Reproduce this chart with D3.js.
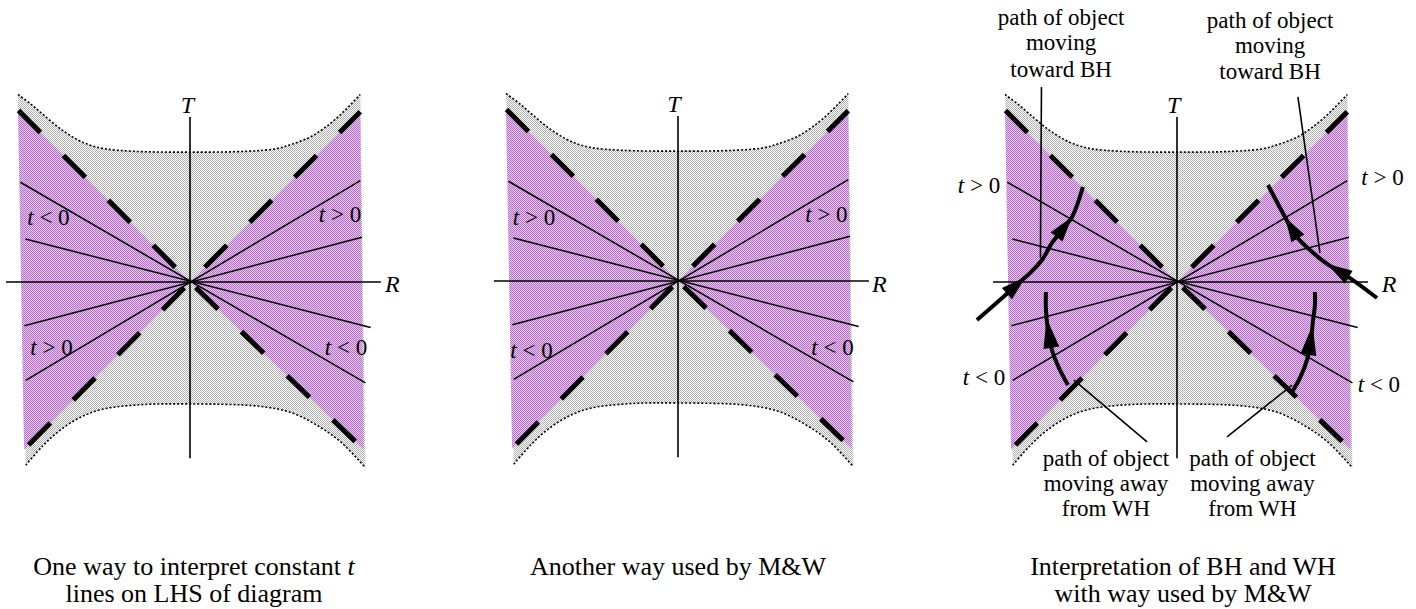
<!DOCTYPE html>
<html><head><meta charset="utf-8">
<script src="https://cdn.jsdelivr.net/npm/d3@7/dist/d3.min.js"></script>
<style>
body{margin:0;background:#fff}
svg{display:block}
text{font-family:"Liberation Serif","Times New Roman",Times,serif;fill:#000}
</style>
</head><body>
<svg id="c" width="1416" height="609"></svg>
<script>
// ---------------- DATA (unit coordinates: R horizontal, T vertical) ----------------
const topCurve = [[-1.0,1.09],[-0.92,1.03],[-0.85,0.97],[-0.75,0.888],[-0.65,0.825],[-0.58,0.795],[-0.5,0.775],[-0.33,0.76],[0,0.755],[0.33,0.76],[0.5,0.775],[0.59,0.8],[0.71,0.849],[0.845,0.946],[0.99,1.09]];
const bottomCurve = [[-0.955,-1.065],[-0.855,-0.952],[-0.76,-0.865],[-0.64,-0.788],[-0.51,-0.74],[-0.28,-0.713],[0,-0.709],[0.4,-0.722],[0.59,-0.76],[0.745,-0.837],[0.88,-0.933],[1.02,-1.08]];
const purpleLeft = [[0,0],[-1.0,1.0],[-0.965,-0.975]];
const purpleRight = [[0,0],[0.99,0.99],[1.01,-0.975]];
const diagonalEnds = [[-1.0,1.0],[0.99,0.99],[-0.965,-0.975],[1.01,-0.975]];
const tLines = [
  [[-0.986,0.58],[1.02,-0.587]],
  [[-0.957,0.25],[1.05,-0.264]],
  [[-0.963,-0.254],[1.0,0.26]],
  [[-0.955,-0.572],[0.99,0.589]]
];
const tAxisRange = [-1.025, 0.96];
const rAxisRange = [-1.07, 1.11];
const axisNames = ["T","R"];
const tLabelTexts = [
  ["*t* < 0","*t* > 0","*t* > 0","*t* < 0"],
  ["*t* > 0","*t* > 0","*t* < 0","*t* < 0"],
  ["*t* > 0","*t* > 0","*t* < 0","*t* < 0"]
];
const captionLines = [
  ["One way to interpret constant *t*","lines on LHS of diagram"],
  ["Another way used by M&W"],
  ["Interpretation of BH and WH","with way used by M&W"]
];
// panel 3 paths of objects
const pathTowardLeft = [[-1.163,-0.221],[-1.03,-0.105],[-0.9,0.012],[-0.855,0.052],[-0.785,0.128],[-0.727,0.227],[-0.669,0.302],[-0.61,0.378],[-0.547,0.552]];
const pathTowardRight = [[1.163,-0.093],[1.006,0.023],[0.866,0.11],[0.773,0.186],[0.692,0.267],[0.628,0.378],[0.529,0.564]];
const pathAwayLeft = [[-0.634,-0.599],[-0.686,-0.5],[-0.727,-0.395],[-0.75,-0.279],[-0.762,-0.163],[-0.762,-0.058]];
const pathAwayRight = [[0.669,-0.64],[0.715,-0.558],[0.756,-0.453],[0.779,-0.337],[0.791,-0.221],[0.802,-0.134],[0.802,-0.058]];
const arrowFractions = [[0.375,0.815],[0.375,0.775],[0.73],[0.68]];
const pointerLines = [
  [[-0.788,1.134],[-0.794,0.14]],
  [[0.703,1.076],[0.831,0.169]],
  [[-0.174,-0.93],[-0.599,-0.57]],
  [[0.291,-0.901],[0.669,-0.599]]
];
const towardText = ["path of object","moving","toward BH"];
const awayText = ["path of object","moving away","from WH"];

// ---------------- LAYOUT / STYLE ----------------
const S = 172;
const origins = [[190,282],[678,281],[1177,282]];
const tLabelPos = [
  [[-0.823,0.331],[0.872,0.349],[-0.805,-0.424],[0.907,-0.424]],
  [[-0.837,0.326],[0.863,0.343],[-0.852,-0.448],[0.898,-0.43]],
  [[-1.151,0.517],[1.195,0.564],[-1.122,-0.599],[1.174,-0.64]]
];
const tAxisLabelPos = [[-0.015,0.983],[-0.023,0.983],[-0.02,0.983]];
const rAxisLabelPos = [[1.134,-0.058],[1.128,-0.064],[1.19,-0.058]];
const captionX = [194,678,1183];
const captionBase = [575,602];
const annPos = [[-0.674,[1.494,1.35,1.192]],[0.541,[1.477,1.331,1.18]],[-0.413,[-1.07,-1.215,-1.36]],[0.439,[-1.07,-1.215,-1.36]]];
const labelFont = 23, captionFont = 26;

const svg = d3.select("#c");
const defs = svg.append("defs");
function checker(id, a, b){
  const p = defs.append("pattern").attr("id",id).attr("width",2).attr("height",2)
    .attr("patternUnits","userSpaceOnUse");
  p.append("rect").attr("width",2).attr("height",2).attr("fill",b).attr("shape-rendering","crispEdges");
  p.append("rect").attr("width",1).attr("height",1).attr("fill",a).attr("shape-rendering","crispEdges");
  p.append("rect").attr("x",1).attr("y",1).attr("width",1).attr("height",1).attr("fill",a).attr("shape-rendering","crispEdges");
}
checker("grayPat","#afafaf","#ffffff");
checker("purplePat","#b46ec8","#e8c8ee");

function addRich(sel, str){
  const parts = str.split("*");
  parts.forEach((s,k)=>{ if(!s) return;
    const ts = sel.append("tspan").text(s);
    if(k%2===1) ts.attr("font-style","italic");
  });
}

origins.forEach((o,i)=>{
  const [ox,oy] = o;
  const x = d3.scaleLinear().domain([0,1]).range([ox, ox+S]);
  const y = d3.scaleLinear().domain([0,1]).range([oy, oy-S]);
  const line = d3.line().x(d=>x(d[0])).y(d=>y(d[1]));
  const curve = d3.line().x(d=>x(d[0])).y(d=>y(d[1])).curve(d3.curveCatmullRom);
  const g = svg.append("g");

  // gray region
  const dTop = curve(topCurve);
  const dBot = curve(bottomCurve.slice().reverse());
  g.append("path").attr("d", dTop + "L" + dBot.slice(1) + "Z").attr("fill","url(#grayPat)");
  // purple wedges
  [purpleLeft, purpleRight].forEach(p=>{
    g.append("path").attr("d", line(p)+"Z").attr("fill","url(#purplePat)");
  });
  // dotted boundaries
  [topCurve,bottomCurve].forEach(c=>{
    g.append("path").attr("d",curve(c)).attr("fill","none").attr("stroke","#000")
      .attr("stroke-width",1.6).attr("stroke-dasharray","2 2");
  });
  // constant t lines
  tLines.forEach(l=>{
    g.append("path").attr("d",line(l)).attr("stroke","#000").attr("stroke-width",1.5).attr("fill","none");
  });
  // axes
  g.append("path").attr("d",line([[0,tAxisRange[0]],[0,tAxisRange[1]]])).attr("stroke","#000").attr("stroke-width",1.6);
  g.append("path").attr("d",line([[rAxisRange[0],0],[rAxisRange[1],0]])).attr("stroke","#000").attr("stroke-width",1.6);
  // thick dashed diagonals (horizons)
  diagonalEnds.forEach((e,k)=>{
    const ex = x(e[0])-ox, ey = y(e[1])-oy;
    const len = Math.hypot(ex,ey);
    const st = k<2 ? 21 : 8;
    g.append("line").attr("x1",ox+ex*st/len).attr("y1",oy+ey*st/len)
      .attr("x2",ox+ex).attr("y2",oy+ey)
      .attr("stroke","#000").attr("stroke-width",5).attr("stroke-dasharray","31 32.5");
  });
  // t labels
  tLabelTexts[i].forEach((t,k)=>{
    const p = tLabelPos[i][k];
    const tx = g.append("text").attr("x",x(p[0])).attr("y",y(p[1])).attr("text-anchor","middle")
      .attr("font-size",labelFont);
    addRich(tx,t);
  });
  // axis labels
  g.append("text").attr("x",x(tAxisLabelPos[i][0])).attr("y",y(tAxisLabelPos[i][1]))
    .attr("text-anchor","middle").attr("font-size",labelFont+1).attr("font-style","italic").text(axisNames[0]);
  g.append("text").attr("x",x(rAxisLabelPos[i][0])).attr("y",y(rAxisLabelPos[i][1]))
    .attr("font-size",labelFont+1).attr("font-style","italic").text(axisNames[1]);
  // captions
  captionLines[i].forEach((c,k)=>{
    const tx = svg.append("text").attr("x",captionX[i]).attr("y",captionBase[k])
      .attr("text-anchor","middle").attr("font-size",captionFont);
    addRich(tx,c);
  });

  if(i===2){
    // pointer lines
    pointerLines.forEach(l=>{
      g.append("path").attr("d",line(l)).attr("stroke","#000").attr("stroke-width",1.6).attr("fill","none");
    });
    // paths of objects with arrowheads
    const paths = [pathTowardLeft,pathTowardRight,pathAwayLeft,pathAwayRight];
    paths.forEach((p,k)=>{
      const el = g.append("path").attr("d",curve(p)).attr("fill","none").attr("stroke","#000")
        .attr("stroke-width",4);
      const node = el.node();
      const total = node.getTotalLength();
      const L = k<2 ? 25 : 30, W = k<2 ? 15 : 16;
      arrowFractions[k].forEach(f=>{
        const tip = node.getPointAtLength(f*total);
        const back = node.getPointAtLength(Math.max(0,f*total-L));
        let dx = tip.x-back.x, dy = tip.y-back.y; const dl = Math.hypot(dx,dy); dx/=dl; dy/=dl;
        const bx = tip.x-dx*L, by = tip.y-dy*L;
        const px = -dy*W/2, py = dx*W/2;
        g.append("path").attr("d",`M${tip.x},${tip.y}L${bx+px},${by+py}L${bx-px},${by-py}Z`).attr("fill","#000");
      });
    });
    // annotation texts
    [towardText,towardText,awayText,awayText].forEach((lines,k)=>{
      const [ax, bases] = annPos[k];
      lines.forEach((s,j)=>{
        g.append("text").attr("x",x(ax)).attr("y",y(bases[j])).attr("text-anchor","middle")
          .attr("font-size",labelFont).text(s);
      });
    });
  }
});
</script>
</body></html>
